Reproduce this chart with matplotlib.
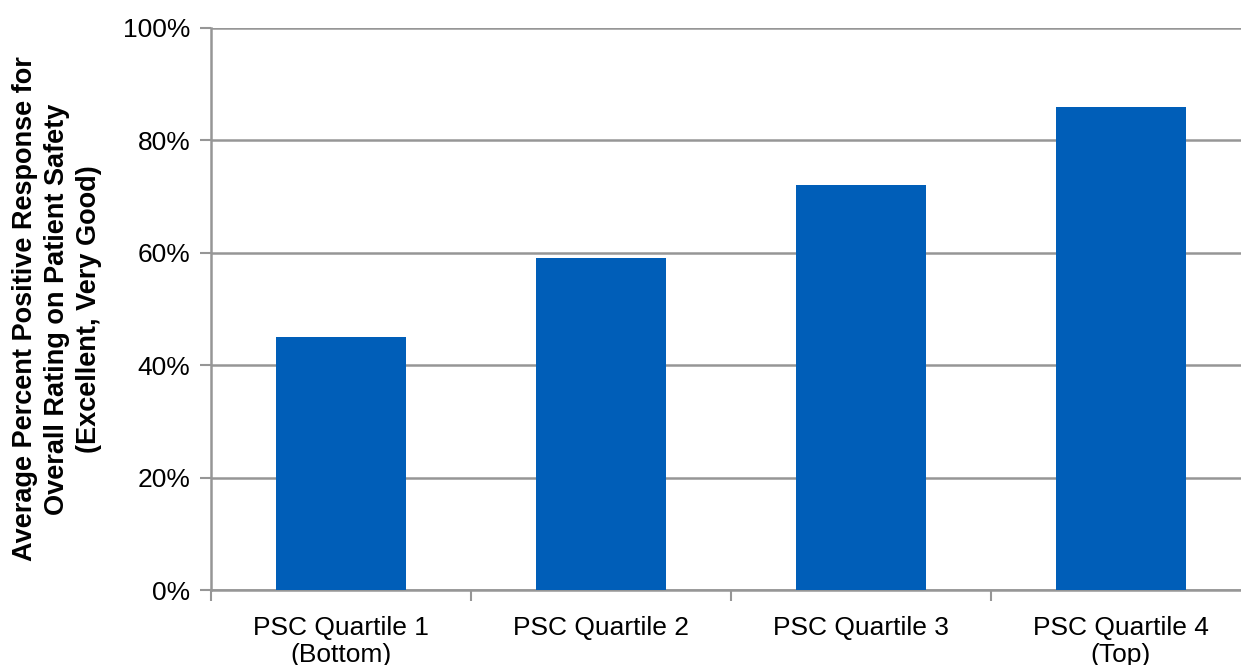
import matplotlib
matplotlib.use('Agg')
import matplotlib.pyplot as plt
from matplotlib.ticker import FixedLocator, PercentFormatter

categories = ['PSC Quartile 1\n(Bottom)', 'PSC Quartile 2', 'PSC Quartile 3', 'PSC Quartile 4\n(Top)']
values = [45, 59, 72, 86]
y_ticks = [0, 20, 40, 60, 80, 100]

plt.rcParams['font.family'] = ['Liberation Sans', 'DejaVu Sans']

W, H = 1241, 665
fig = plt.figure(figsize=(W / 100, H / 100), dpi=100)
# axes box in pixels: left 211, right 1251, top 28, bottom 590
ax = fig.add_axes([211 / W, (H - 590) / H, 1040 / W, 562 / H])

x = list(range(len(categories)))
ax.bar(x, values, width=0.5, color='#005EB8', zorder=3)

ax.set_xlim(-0.5, len(categories) - 0.5)
ax.set_ylim(0, 100)
ax.set_yticks(y_ticks)
ax.yaxis.set_major_formatter(PercentFormatter(decimals=0))
ax.grid(axis='y', color='#969696', linewidth=1.8, zorder=0)

ax.set_xticks(x)
ax.set_xticklabels(categories, fontsize=19, linespacing=1.15)
ax.xaxis.set_minor_locator(FixedLocator([i - 0.5 for i in range(len(categories) + 1)]))
ax.tick_params(axis='x', which='major', length=0, pad=19)
ax.tick_params(axis='x', which='minor', length=8, width=1.5, color='#969696')
ax.tick_params(axis='y', length=8, width=1.5, color='#969696', labelsize=19, pad=7)

for s in ['top', 'right']:
    ax.spines[s].set_visible(False)
for s in ['left', 'bottom']:
    ax.spines[s].set_color('#969696')
    ax.spines[s].set_linewidth(1.8)

fig.text(57 / W, 1 - 309 / H,
         'Average Percent Positive Response for\nOverall Rating on Patient Safety\n(Excellent, Very Good)',
         rotation=90, ha='center', va='center', multialignment='center',
         fontsize=19.5, fontweight='bold', linespacing=1.3)

fig.savefig('out.png', dpi=100)
